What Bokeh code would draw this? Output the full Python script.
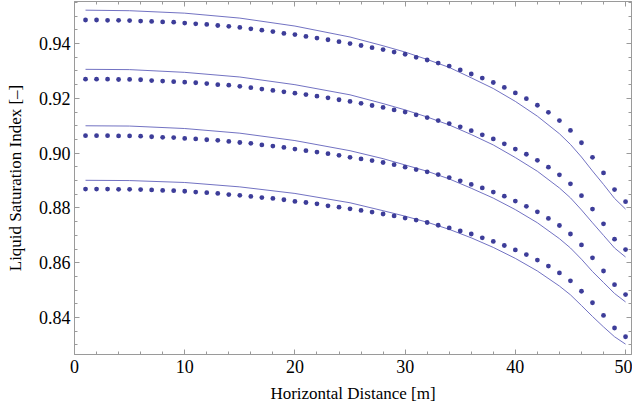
from bokeh.plotting import figure
from bokeh.models import LinearAxis, FixedTicker, Range1d, PrintfTickFormatter
from bokeh.embed import file_html
from bokeh.resources import INLINE

# ---- data ----
distance = list(range(1, 51))

dots_1 = [0.9486, 0.9486, 0.9485, 0.9485, 0.9484, 0.9482, 0.9481, 0.9479, 0.9478, 0.9475,
          0.9472, 0.9470, 0.9466, 0.9463, 0.9459, 0.9454, 0.9449, 0.9444, 0.9437, 0.9433,
          0.9426, 0.9420, 0.9414, 0.9407, 0.9400, 0.9393, 0.9385, 0.9378, 0.9369, 0.9361,
          0.9350, 0.9340, 0.9329, 0.9318, 0.9304, 0.9289, 0.9274, 0.9258, 0.9240, 0.9220,
          0.9199, 0.9175, 0.9149, 0.9119, 0.9083, 0.9038, 0.8985, 0.8928, 0.8867, 0.8823]

dots_2 = [0.9270, 0.9270, 0.9270, 0.9269, 0.9269, 0.9268, 0.9265, 0.9263, 0.9261, 0.9259,
          0.9257, 0.9254, 0.9250, 0.9248, 0.9244, 0.9239, 0.9234, 0.9229, 0.9224, 0.9219,
          0.9214, 0.9208, 0.9202, 0.9195, 0.9189, 0.9182, 0.9174, 0.9167, 0.9158, 0.9150,
          0.9140, 0.9130, 0.9119, 0.9108, 0.9096, 0.9082, 0.9067, 0.9052, 0.9034, 0.9015,
          0.8996, 0.8974, 0.8949, 0.8921, 0.8888, 0.8845, 0.8796, 0.8742, 0.8686, 0.8648]

dots_3 = [0.9064, 0.9064, 0.9064, 0.9063, 0.9063, 0.9062, 0.9060, 0.9058, 0.9057, 0.9054,
          0.9052, 0.9049, 0.9047, 0.9043, 0.9039, 0.9036, 0.9030, 0.9026, 0.9021, 0.9015,
          0.9009, 0.9004, 0.8998, 0.8992, 0.8985, 0.8979, 0.8973, 0.8966, 0.8958, 0.8949,
          0.8940, 0.8932, 0.8922, 0.8911, 0.8899, 0.8886, 0.8873, 0.8858, 0.8843, 0.8825,
          0.8806, 0.8786, 0.8762, 0.8736, 0.8705, 0.8665, 0.8618, 0.8570, 0.8520, 0.8484]

dots_4 = [0.8869, 0.8869, 0.8869, 0.8868, 0.8868, 0.8867, 0.8866, 0.8864, 0.8863, 0.8861,
          0.8858, 0.8856, 0.8853, 0.8849, 0.8846, 0.8842, 0.8838, 0.8835, 0.8830, 0.8824,
          0.8820, 0.8815, 0.8808, 0.8803, 0.8797, 0.8791, 0.8785, 0.8778, 0.8771, 0.8763,
          0.8756, 0.8747, 0.8737, 0.8727, 0.8716, 0.8705, 0.8691, 0.8678, 0.8663, 0.8647,
          0.8630, 0.8610, 0.8588, 0.8563, 0.8534, 0.8496, 0.8454, 0.8408, 0.8362, 0.8330]

line_x = [1, 5, 10, 15, 20, 25, 28, 30, 32, 34, 36, 38, 40, 42, 44, 45, 46, 47, 48, 49, 50]
line_1 = [0.9522, 0.9520, 0.9511, 0.9493, 0.9464, 0.9424, 0.9392, 0.9369, 0.9342, 0.9313,
          0.9275, 0.9236, 0.9189, 0.9135, 0.9071, 0.9032, 0.8986, 0.8935, 0.8886, 0.8835, 0.8796]
line_2 = [0.9306, 0.9305, 0.9295, 0.9278, 0.9250, 0.9213, 0.9181, 0.9158, 0.9132, 0.9103,
          0.9068, 0.9030, 0.8984, 0.8934, 0.8873, 0.8837, 0.8793, 0.8746, 0.8700, 0.8654, 0.8621]
line_3 = [0.9100, 0.9099, 0.9090, 0.9073, 0.9046, 0.9009, 0.8980, 0.8957, 0.8934, 0.8906,
          0.8872, 0.8836, 0.8794, 0.8746, 0.8688, 0.8654, 0.8613, 0.8568, 0.8528, 0.8488, 0.8457]
line_4 = [0.8901, 0.8900, 0.8893, 0.8877, 0.8853, 0.8819, 0.8790, 0.8770, 0.8748, 0.8722,
          0.8691, 0.8656, 0.8616, 0.8570, 0.8515, 0.8483, 0.8444, 0.8404, 0.8366, 0.8330, 0.8303]

x_major = [0, 10, 20, 30, 40, 50]
x_minor = [2, 4, 6, 8, 12, 14, 16, 18, 22, 24, 26, 28, 32, 34, 36, 38, 42, 44, 46, 48]
y_major = [0.84, 0.86, 0.88, 0.90, 0.92, 0.94]
y_minor = [0.83, 0.835, 0.845, 0.85, 0.855, 0.865, 0.87, 0.875, 0.885, 0.89, 0.895,
           0.905, 0.91, 0.915, 0.925, 0.93, 0.935, 0.945, 0.95, 0.955]

x_title = "Horizontal Distance [m]"
y_title = "Liquid Saturation Index [–]"

# ---- styling ----
FONT = "Liberation Serif"
FRAME = "#9a9a9a"
DOT = "#3d3d99"
LINE = "#6262bb"

p = figure(width=632, height=405,
           x_range=Range1d(0, 50.54), y_range=Range1d(0.82652, 0.95536),
           output_backend="svg", toolbar_location=None,
           min_border_left=74, min_border_right=1, min_border_top=1, min_border_bottom=51,
           x_axis_label=x_title, y_axis_label=y_title)
p.grid.visible = False
p.outline_line_color = FRAME
p.outline_line_width = 1
p.background_fill_color = "white"
p.border_fill_color = "white"

for ys in (line_1, line_2, line_3, line_4):
    p.line(line_x, ys, line_color=LINE, line_width=0.9)
for ys in (dots_1, dots_2, dots_3, dots_4):
    p.scatter(distance, ys, size=4.8, fill_color=DOT, line_color=None)

xt = FixedTicker(ticks=x_major, minor_ticks=x_minor)
yt = FixedTicker(ticks=y_major, minor_ticks=y_minor)

top = LinearAxis(ticker=xt)
right = LinearAxis(ticker=yt)
p.add_layout(top, "above")
p.add_layout(right, "right")

p.xaxis.ticker = xt
p.yaxis.ticker = yt
p.left[0].formatter = PrintfTickFormatter(format="%.2f")

for ax in p.axis:
    ax.axis_line_color = FRAME
    ax.major_tick_line_color = FRAME
    ax.minor_tick_line_color = FRAME
    ax.major_tick_in = 5
    ax.major_tick_out = 0
    ax.minor_tick_in = 3
    ax.minor_tick_out = 0
    ax.major_label_text_font = FONT
    ax.major_label_text_font_size = "18px"
    ax.major_label_text_color = "black"
    ax.axis_label_text_font = FONT
    ax.axis_label_text_font_size = "17px"
    ax.axis_label_text_font_style = "normal"
    ax.axis_label_text_color = "black"

for ax in (top, right):
    ax.major_label_text_font_size = "0px"
    ax.major_label_standoff = 0

p.below[0].major_label_standoff = 5
p.below[0].axis_label_standoff = 8
p.left[0].major_label_standoff = 4
p.left[0].axis_label_standoff = 11

open("out.html", "w").write(file_html(p, INLINE))
